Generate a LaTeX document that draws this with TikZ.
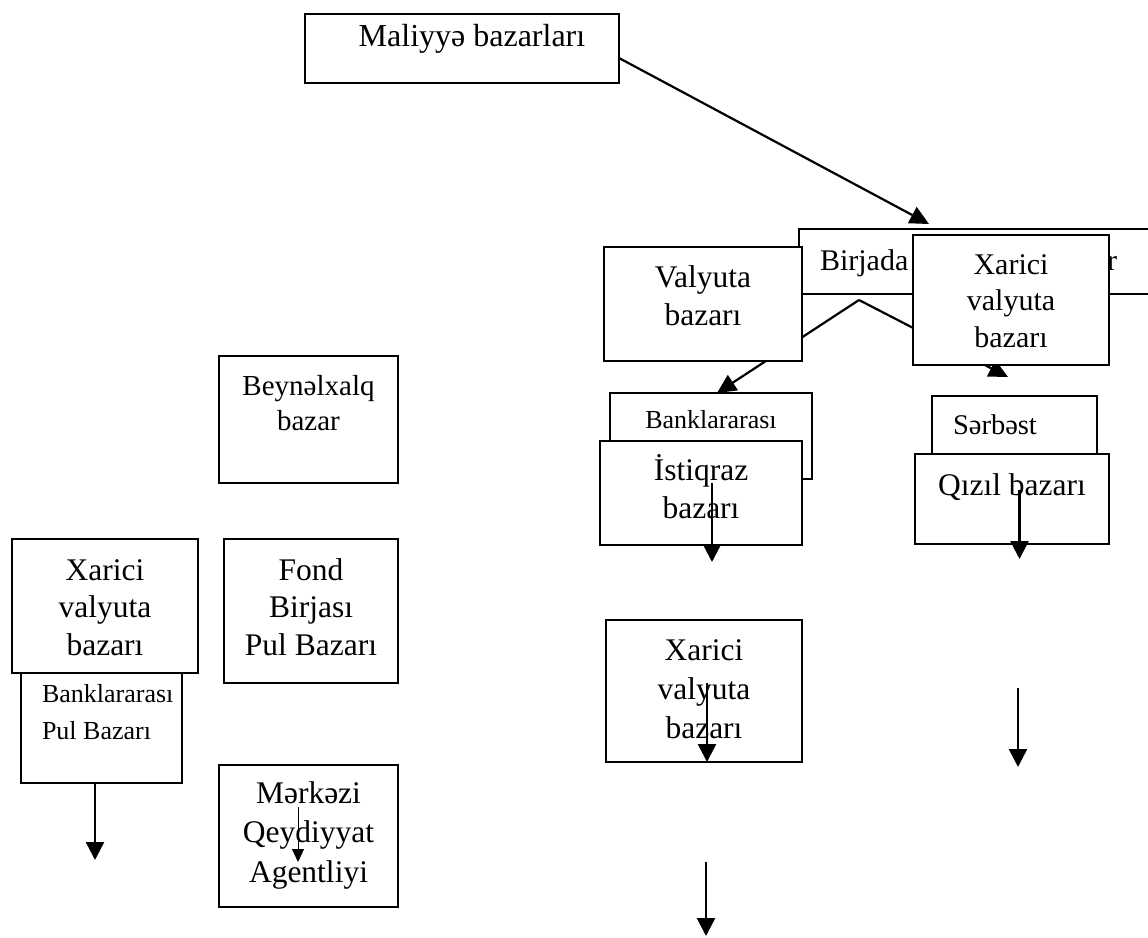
\documentclass[tikz,border=0pt]{standalone}
\usepackage{fontspec}
\setmainfont{Liberation Serif}
\usetikzlibrary{arrows.meta,calc}

% fixed-size text box: width, height, font size, line skip, first baseline, text
\newcommand{\ctext}[6]{\parbox[c][#2][t]{#1}{\fontsize{#3}{#4}\selectfont\centering
  \vspace*{\dimexpr#5-\ht\strutbox\relax}\strut#6\par}}
% same, flush left with an indent
\newcommand{\ltext}[7]{\parbox[c][#2][t]{#1}{\fontsize{#3}{#4}\selectfont\raggedright\leftskip=#6\relax
  \vspace*{\dimexpr#5-\ht\strutbox\relax}\strut#7\par}}

\tikzset{
  box/.style={draw, line width=1.3pt, fill=white, inner sep=0pt, outer sep=0pt, anchor=north west},
  arr/.style={line width=2.5pt, -{Triangle[length=18pt,width=18pt]}},
  thinarr/.style={line width=1pt, -{Triangle[length=13pt,width=12pt]}},
  diag/.style={line width=2.2pt, -{Triangle[length=19pt,width=18pt]}}
}

\begin{document}
\begin{tikzpicture}[x=1pt,y=-1pt]
\useasboundingbox (0,0) rectangle (1148,937);

% top level
\node[box] (mal) at (305,14) {\ctext{314pt}{69pt}{32}{38}{32pt}{\hspace*{20pt}Maliyyə bazarları}};
\coordinate (birjIn) at (929,224);
\draw[diag] ($(mal.east)+(0,9.5)$) -- (birjIn);

\node[box] (birj) at (799,229) {\ltext{361pt}{65pt}{30}{37}{41pt}{21pt}{\makebox[297pt][s]{Birjada\hfill r}}};

% fork below the second level
\coordinate (fork) at (859,300);
\coordinate (bnkIn) at (717,393);
\coordinate (srbIn) at (1008,377);
\draw[diag] (fork) -- (bnkIn);
\draw[diag] (fork) -- (srbIn);

\node[box] (val) at (604,247) {\ctext{198pt}{114pt}{31.5}{38}{40pt}{Valyuta\\bazarı}};
\node[box] (xtr) at (913,235) {\ctext{196pt}{130pt}{30}{36.5}{39pt}{Xarici\\valyuta\\bazarı}};

% right column, left branch
\node[box] (bnk) at (610,393) {\ctext{202pt}{86pt}{26}{37}{35pt}{Banklararası}};
\node[box] (ist) at (600,441) {\ctext{202pt}{104pt}{31.5}{38}{39pt}{İstiqraz\\bazarı}};
\coordinate (istA) at (712,483);
\coordinate (istB) at (712,562);
\draw[arr] (istA) -- (istB);

% right column, right branch
\node[box] (srb) at (932,396) {\ltext{165pt}{64pt}{28.5}{36}{38pt}{21pt}{Sərbəst}};
\node[box] (qiz) at (915,454) {\ctext{194pt}{90pt}{31.5}{38}{41pt}{Qızıl bazarı}};
\coordinate (qizA) at (1019.5,490);
\coordinate (qizB) at (1019.5,559);
\draw[arr] (qizA) -- (qizB);

% lower right
\node[box] (xbr) at (606,620) {\ctext{196pt}{142pt}{31.5}{39}{40pt}{Xarici\\valyuta\\bazarı}};
\coordinate (xbrA) at (707,683);
\coordinate (xbrB) at (707,762);
\draw[arr] (xbrA) -- (xbrB);
\coordinate (rmA) at (1018,688);
\coordinate (rmB) at (1018,767);
\draw[arr] (rmA) -- (rmB);
\coordinate (botA) at (706,862);
\coordinate (botB) at (706,936);
\draw[arr] (botA) -- (botB);

% left group
\node[box] (bey) at (219,356) {\ctext{179pt}{127pt}{29}{35.5}{39pt}{Beynəlxalq\\bazar}};
\node[box] (bpl) at (21,650) {\ltext{161pt}{133pt}{26}{37}{52pt}{21pt}{Banklararası\\Pul Bazarı}};
\node[box] (xl) at (12,539) {\ctext{186pt}{134pt}{31.5}{37.5}{41pt}{Xarici\\valyuta\\bazarı}};
\node[box] (fond) at (224,539) {\ctext{174pt}{144pt}{31.5}{37.5}{41pt}{Fond\\Birjası\\Pul Bazarı}};
\coordinate (bplOut) at ($(bpl.south)+(-6.5,0)$);
\coordinate (leftB) at (95,860);
\draw[arr] (bplOut) -- (leftB);

\node[box] (mrk) at (219,765) {\ctext{179pt}{142pt}{31.5}{39.5}{38pt}{Mərkəzi\\Qeydiyyat\\Agentliyi}};
\coordinate (mrkA) at (298,807);
\coordinate (mrkB) at (298,862);
\draw[thinarr] (mrkA) -- (mrkB);
\end{tikzpicture}
\end{document}
